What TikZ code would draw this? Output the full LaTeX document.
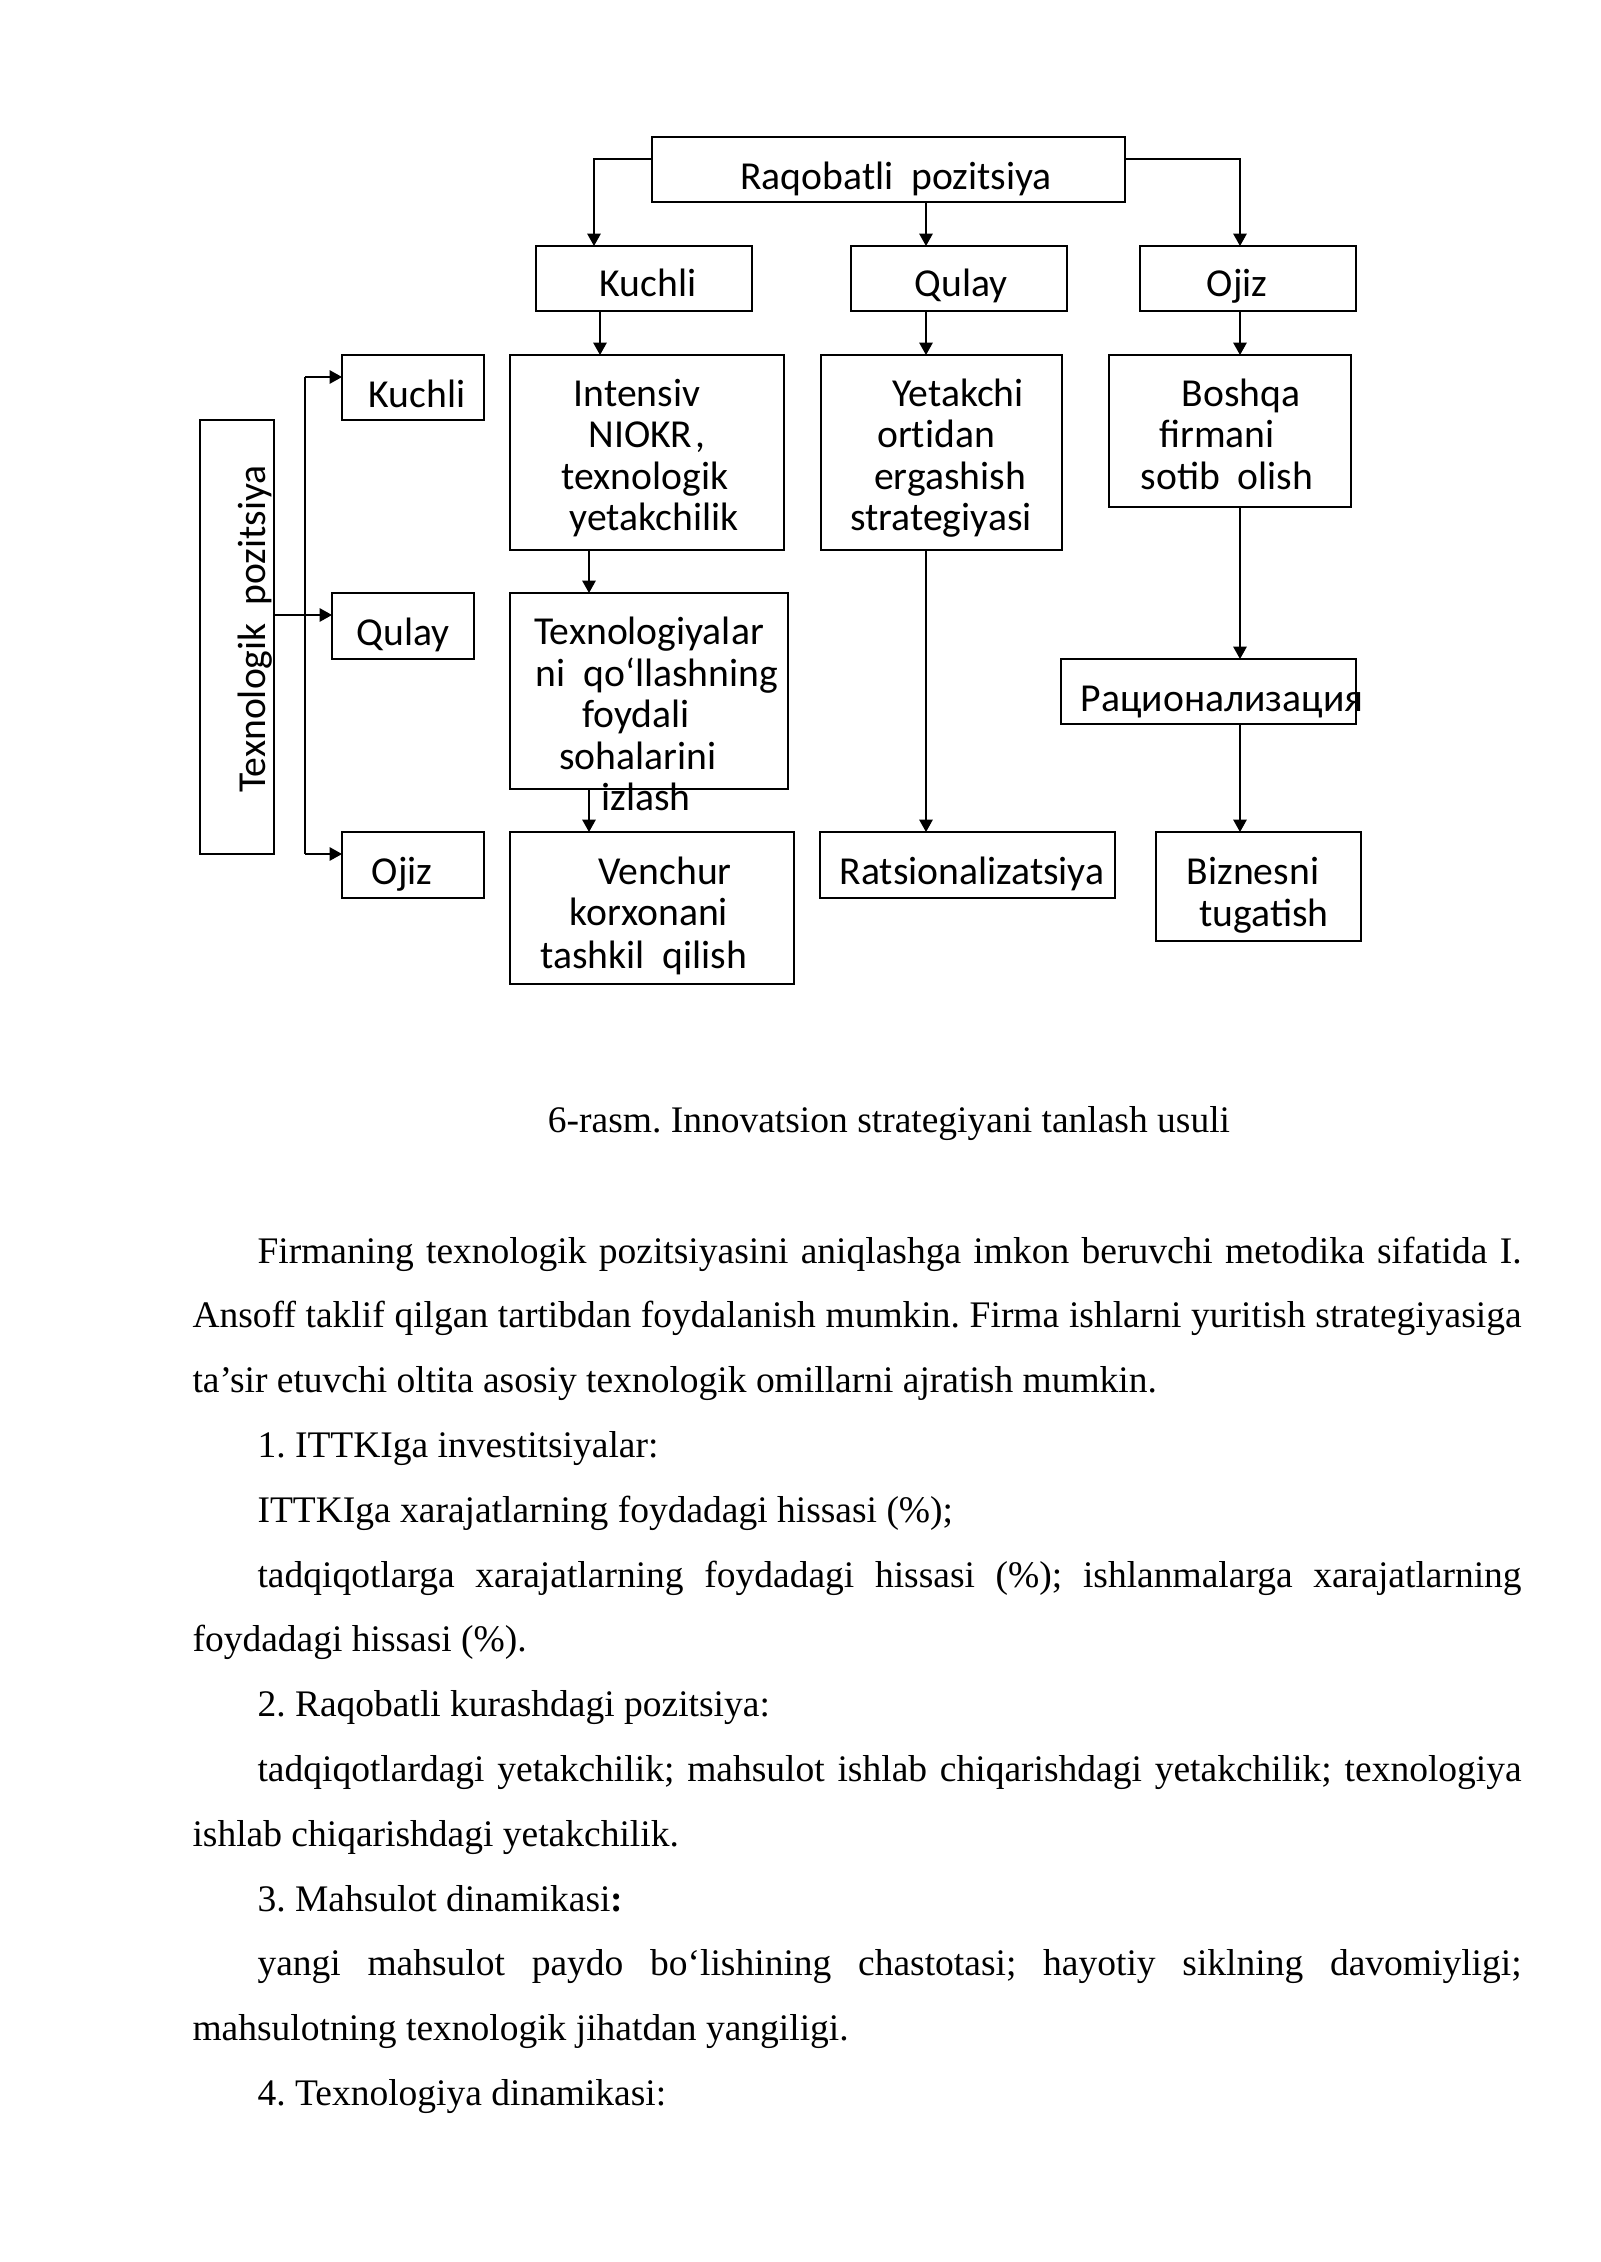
\documentclass[tikz,border=0pt]{standalone}
\usepackage{fontspec}
\setmainfont{Liberation Serif}
\newfontfamily\calfont{Carlito}
\usetikzlibrary{arrows.meta}
\newlength\pxu
\setlength\pxu{0.013125cm}
\newcommand\bxn[5]{\node[bx, minimum width={(#4-#2)*\pxu}, minimum height={(#5-#3)*\pxu}] (#1) at ({(#2+#4)/2},{(#3+#5)/2}) {};}
\frenchspacing
\begin{document}
\begin{tikzpicture}[x=0.013125cm,y=-0.013125cm,
  bx/.style={draw, line width=0.55pt, inner sep=0pt, outer sep=0pt},
  arr/.style={line width=0.55pt, -{Triangle[length=4.6pt,width=5pt]}},
  ln/.style={line width=0.55pt},
  lbl/.style={font=\calfont\fontsize{14.8}{15.4}\selectfont, inner sep=0pt, anchor=base},
  body/.style={font=\fontsize{14}{16}\selectfont\frenchspacing, inner sep=0pt, anchor=base west}]
\useasboundingbox (0,0) rectangle (1600,2262);
\fill[white] (0,0) rectangle (1600,2262);
% boxes
\bxn{raq}{652}{137}{1125}{202}
\bxn{tk}{536}{246}{752}{311}
\bxn{tq}{851}{246}{1067}{311}
\bxn{to}{1140}{246}{1356}{311}
\bxn{ib}{510}{355}{784}{550}
\bxn{yet}{821}{355}{1062}{550}
\bxn{bosh}{1109}{355}{1351}{507}
\bxn{lk}{342}{355}{484}{420}
\bxn{tex}{200}{420}{274}{854}
\bxn{lq}{332}{593}{474}{659}
\bxn{texn}{510}{593}{788}{789}
\bxn{rac}{1061}{659}{1356}{724}
\bxn{lo}{342}{832}{484}{898}
\bxn{ven}{510}{832}{794}{984}
\bxn{rats}{820}{832}{1115}{898}
\bxn{biz}{1156}{832}{1361}{941}
% texts
\node[lbl] (tRaq) at (896,190) {Raqobatli\ \ pozitsiya};
\node[lbl] (tTK) at (648,297) {Kuchli};
\node[lbl] (tTQ) at (961,297) {Qulay};
\node[lbl] (tTO) at (1237,297) {Ojiz};
\node[lbl] (tIB1) at (637,406) {Intensiv};
\node[lbl] (tIB2) at (640.4,447.5) {NIOKR\rlap{\kern1.2pt,}};
\node[lbl] (tIB3) at (645,489) {texnologik};
\node[lbl] (tIB4) at (654,530) {yetakchilik};
\node[lbl] (tY1) at (958,406) {Yetakchi};
\node[lbl] (tY2) at (936,447.5) {ort\kern0pt idan};
\node[lbl] (tY3) at (950,489) {ergashish};
\node[lbl] (tY4) at (941,530) {strategiyasi};
\node[lbl] (tB1) at (1241,406) {Boshqa};
\node[lbl] (tB2) at (1217,447.5) {firmani};
\node[lbl] (tB3) at (1227,489) {sotib\ \ olish};
\node[lbl] (tLK) at (417,407) {Kuchli};
\node[lbl, rotate=90] (tTex) at (265,629) {Texnologik\ \ pozitsiya};
\node[lbl] (tLQ) at (403,645) {Qulay};
\node[lbl] (tT1) at (649,644) {Texnologiyalar};
\node[lbl] (tT2) at (657,686.7) {ni\ \ qo‘llashning};
\node[lbl] (tT3) at (636,727.7) {foydali};
\node[lbl] (tT4) at (638,769.3) {sohalarini};
\node[lbl] (tT5) at (646,810.7) {izlash};
\node[lbl] (tRac) at (1222,711.7) {Рационализация};
\node[lbl] (tLO) at (402,884) {Ojiz};
\node[lbl] (tV1) at (665,884) {Venchur};
\node[lbl] (tV2) at (649,925.7) {korxonani};
\node[lbl] (tV3) at (644,968.3) {tashkil\ \ qilish};
\node[lbl] (tR) at (972,884) {Ratsionalizatsiya};
\node[lbl] (tBz1) at (1253,884) {Biznesni};
\node[lbl] (tBz2) at (1264,926.7) {tugatish};
% connectors
\draw[arr] (raq.west |- 0,159) -| (594,0 |- tk.north);
\draw[arr] (926,0 |- raq.south) -- (926,0 |- tq.north);
\draw[arr] (raq.east |- 0,159) -| (1240,0 |- to.north);
\draw[arr] (600,0 |- tk.south) -- (600,0 |- ib.north);
\draw[arr] (926,0 |- tq.south) -- (926,0 |- yet.north);
\draw[arr] (1240,0 |- to.south) -- (1240,0 |- bosh.north);
\draw[arr] (589,0 |- ib.south) -- (589,0 |- texn.north);
\draw[arr] (589,0 |- texn.south) -- (589,0 |- ven.north);
\draw[arr] (926,0 |- yet.south) -- (926,0 |- rats.north);
\draw[arr] (1240,0 |- bosh.south) -- (1240,0 |- rac.north);
\draw[arr] (1240,0 |- rac.south) -- (1240,0 |- biz.north);
\draw[arr] (tex.east |- 0,615) -- (lq.west |- 0,615);
\coordinate (vt) at (305,377);
\coordinate (vb) at (305,854);
\draw[ln] (vt) -- (vb);
\draw[arr] (vt) -- (lk.west |- vt);
\draw[arr] (vb) -- (lo.west |- vb);
% caption and body text
\node[body, anchor=base] (cap) at (889,1132) {6-rasm. Innovatsion strategiyani tanlash usuli};
\node[body] (p1) at (257,1263) {\makebox[1264\pxu][s]{Firmaning texnologik pozitsiyasini aniqlashga imkon beruvchi metodika sifatida I.}};
\node[body] (p2) at (192,1327.8) {\makebox[1329\pxu][s]{Ansoff taklif qilgan tartibdan foydalanish mumkin. Firma ishlarni yuritish strategiyasiga}};
\node[body] (p3) at (192,1392.6) {ta’sir etuvchi oltita asosiy texnologik omillarni ajratish mumkin.};
\node[body] (p4) at (257,1457.4) {1. ITTKIga investitsiyalar:};
\node[body] (p5) at (257,1522.2) {ITTKIga xarajatlarning foydadagi hissasi (\%);};
\node[body] (p6) at (257,1587) {\makebox[1264\pxu][s]{tadqiqotlarga xarajatlarning foydadagi hissasi (\%); ishlanmalarga xarajatlarning}};
\node[body] (p7) at (192,1651.8) {foydadagi hissasi (\%).};
\node[body] (p8) at (257,1716.6) {2. Raqobatli kurashdagi pozitsiya:};
\node[body] (p9) at (257,1781.4) {\makebox[1264\pxu][s]{tadqiqotlardagi yetakchilik; mahsulot ishlab chiqarishdagi yetakchilik; texnologiya}};
\node[body] (p10) at (192,1846.2) {ishlab chiqarishdagi yetakchilik.};
\node[body] (p11) at (257,1911) {3. Mahsulot dinamikasi\textbf{:}};
\node[body] (p12) at (257,1975.8) {\makebox[1264\pxu][s]{yangi mahsulot paydo bo‘lishining chastotasi; hayotiy siklning davomiyligi;}};
\node[body] (p13) at (192,2040.6) {mahsulotning texnologik jihatdan yangiligi.};
\node[body] (p14) at (257,2105.4) {4. Texnologiya dinamikasi:};
\end{tikzpicture}
\end{document}
